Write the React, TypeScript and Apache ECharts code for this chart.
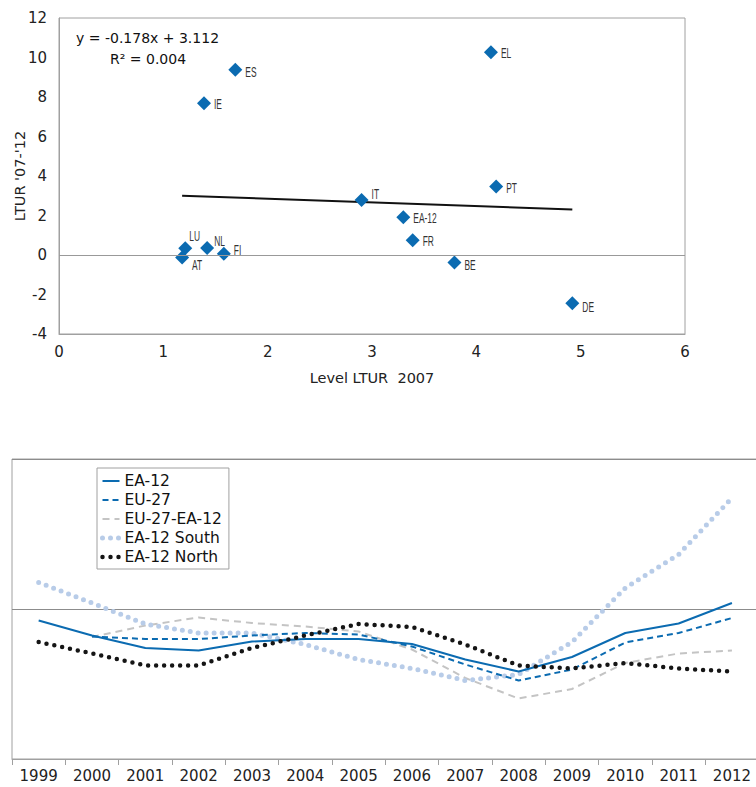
import React, { useEffect, useRef } from 'react';
import * as echarts from 'echarts';

// ---- Scatter: level of long-term unemployment 2007 vs change 2007-2012 ----
const countries = ['EL', 'ES', 'IE', 'IT', 'PT', 'EA-12', 'FR', 'BE', 'DE', 'LU', 'NL', 'FI', 'AT'];
const ltur2007 = [4.14, 1.69, 1.39, 2.9, 4.19, 3.3, 3.39, 3.79, 4.92, 1.21, 1.42, 1.58, 1.18];
const lturChange = [10.27, 9.38, 7.68, 2.78, 3.47, 1.91, 0.75, -0.38, -2.44, 0.34, 0.36, 0.06, -0.13];
const trendX = [1.18, 4.92];
const trendY = [3.0, 2.31];
const equationText = 'y = -0.178x + 3.112';
const r2Text = 'R\u00B2 = 0.004';
const scatterXName = 'Level LTUR  2007';
const scatterYName = "LTUR '07-'12";

// ---- Lines: 1999-2012 ----
const years = ['1999', '2000', '2001', '2002', '2003', '2004', '2005', '2006', '2007', '2008', '2009', '2010', '2011', '2012'];
const ea12 = [-0.23, -0.53, -0.78, -0.83, -0.65, -0.6, -0.6, -0.7, -1.01, -1.25, -0.96, -0.48, -0.29, 0.12];
const eu27 = [null, -0.55, -0.6, -0.6, -0.53, -0.48, -0.51, -0.75, -1.11, -1.43, -1.21, -0.67, -0.48, -0.18];
const eu27MinusEa12 = [null, -0.56, -0.33, -0.17, -0.28, -0.35, -0.45, -0.81, -1.38, -1.79, -1.6, -1.08, -0.89, -0.83];
const ea12South = [0.53, 0.12, -0.3, -0.48, -0.48, -0.71, -1.01, -1.19, -1.43, -1.31, -0.66, 0.42, 1.09, 2.22];
const ea12North = [-0.66, -0.89, -1.13, -1.13, -0.78, -0.53, -0.3, -0.36, -0.71, -1.13, -1.19, -1.08, -1.19, -1.25];
const legendNames = ['EA-12', 'EU-27', 'EU-27-EA-12', 'EA-12 South', 'EA-12 North'];

// label placement tweaks (style, not data)
const labelShift: Record<string, [number, number]> = {
  ES: [0, 1],
  IT: [0, -7],
  PT: [0, 1],
  BE: [0, 2],
  DE: [0, 3],
  LU: [-6, -13],
  NL: [-3, -8],
  FI: [0, -5],
  AT: [0, 6],
};

const FONT = "'DejaVu Sans', sans-serif";
const LABEL_FONT = "15px 'Liberation Sans', Arial, sans-serif";
const BLUE = '#0b6bb1';
const GRAY = '#a0a0a0';

export default function App() {
  const ref = useRef<HTMLDivElement>(null);
  useEffect(() => {
    if (!ref.current) return;
    const chart = echarts.init(ref.current, undefined, { renderer: 'svg' });
    const option: any = {
      animation: false,
      textStyle: { fontFamily: FONT },
      grid: [
        { left: 59, top: 18, width: 626, height: 316, show: true, borderColor: GRAY, borderWidth: 1, outerBoundsMode: 'none', containLabel: false },
        { left: 12, top: 459, width: 746.6, height: 300, show: true, borderColor: GRAY, borderWidth: 1, outerBoundsMode: 'none', containLabel: false },
      ],
      xAxis: [
        {
          type: 'value', gridIndex: 0, min: 0, max: 6, interval: 1,
          axisLine: { show: true, onZero: false, lineStyle: { color: GRAY } },
          axisTick: { show: false }, splitLine: { show: false },
          axisLabel: { fontSize: 15, color: '#222', margin: 10, fontFamily: FONT },
          name: scatterXName, nameLocation: 'middle', nameGap: 36, nameMoveOverlap: false,
          nameTextStyle: { fontSize: 14.5, color: '#222', fontFamily: FONT },
        },
        {
          type: 'category', gridIndex: 1, data: years,
          axisLine: { show: true, onZero: false, lineStyle: { color: GRAY } },
          axisTick: { show: true, length: 6, lineStyle: { color: GRAY } },
          axisLabel: { fontSize: 15, color: '#222', margin: 9, interval: 0, fontFamily: FONT },
          splitLine: { show: false },
        },
      ],
      yAxis: [
        {
          type: 'value', gridIndex: 0, min: -4, max: 12, interval: 2,
          axisLine: { show: true, onZero: false, lineStyle: { color: GRAY } },
          axisTick: { show: false }, splitLine: { show: false },
          axisLabel: { fontSize: 15, color: '#222', margin: 12, fontFamily: FONT },
          name: scatterYName, nameLocation: 'middle', nameGap: 32, nameRotate: 90, nameMoveOverlap: false,
          nameTextStyle: { fontSize: 14.5, color: '#222', fontFamily: FONT },
        },
        {
          type: 'value', gridIndex: 1, min: -3, max: 3, interval: 3,
          axisLine: { show: false }, axisTick: { show: false }, axisLabel: { show: false },
          splitLine: { show: true, lineStyle: { color: '#8c8c8c', width: 1 } },
        },
      ],
      legend: {
        data: legendNames,
        orient: 'vertical', left: 97, top: 468,
        itemWidth: 17, itemHeight: 15, itemGap: 3,
        padding: [5, 7, 4, 3],
        borderColor: GRAY, borderWidth: 1, backgroundColor: '#fff',
        itemStyle: { opacity: 0 },
        lineStyle: { width: 'inherit', cap: 'inherit' },
        textStyle: { fontSize: 15.5, color: '#111', fontFamily: FONT },
      },
      graphic: [
        { type: 'text', left: 76, top: 31, style: { text: equationText, font: `14px ${FONT}`, fill: '#111' } },
        { type: 'text', left: 110, top: 52, style: { text: r2Text, font: `14px ${FONT}`, fill: '#111' } },
      ],
      series: [
        {
          type: 'line', xAxisIndex: 0, yAxisIndex: 0,
          data: trendX.map((x, i) => [x, trendY[i]]),
          symbol: 'none', lineStyle: { color: '#111', width: 2 }, silent: true,
        },
        {
          type: 'scatter', xAxisIndex: 0, yAxisIndex: 0,
          symbol: 'diamond', symbolSize: 14,
          itemStyle: { color: BLUE, opacity: 1 },
          data: countries.map((c, i) => ({ name: c, value: [ltur2007[i], lturChange[i]] })),
          markLine: {
            silent: true, symbol: ['none', 'none'], label: { show: false },
            lineStyle: { color: '#999', type: 'solid', width: 1 },
            data: [{ yAxis: 0 }],
          },
          z: 3,
        },
        {
          type: 'custom', xAxisIndex: 0, yAxisIndex: 0, silent: true, z: 4,
          itemStyle: { color: '#333' },
          data: countries.map((c, i) => [ltur2007[i], lturChange[i]]),
          renderItem: (params: any, api: any) => {
            const pt = api.coord([api.value(0), api.value(1)]);
            const name = countries[params.dataIndex];
            const s = labelShift[name] || [0, 0];
            return {
              type: 'text',
              x: pt[0] + 10 + s[0],
              y: pt[1] + 1 + s[1],
              scaleX: 0.56,
              style: { text: name, font: LABEL_FONT, fill: '#333333', align: 'left', verticalAlign: 'middle' },
            };
          },
        },
        {
          name: 'EU-27-EA-12', type: 'line', xAxisIndex: 1, yAxisIndex: 1, data: eu27MinusEa12,
          symbol: 'none', color: '#c4c4c4',
          lineStyle: { color: '#c4c4c4', width: 2, type: [7, 5] },
        },
        {
          name: 'EA-12 South', type: 'line', xAxisIndex: 1, yAxisIndex: 1, data: ea12South,
          symbol: 'none', color: '#b8cce8',
          lineStyle: { color: '#b8cce8', width: 5, type: [0, 8], cap: 'round' },
        },
        {
          name: 'EU-27', type: 'line', xAxisIndex: 1, yAxisIndex: 1, data: eu27,
          symbol: 'none', color: BLUE,
          lineStyle: { color: BLUE, width: 2, type: [6, 4] },
        },
        {
          name: 'EA-12', type: 'line', xAxisIndex: 1, yAxisIndex: 1, data: ea12,
          symbol: 'none', color: BLUE,
          lineStyle: { color: BLUE, width: 2 },
        },
        {
          name: 'EA-12 North', type: 'line', xAxisIndex: 1, yAxisIndex: 1, data: ea12North,
          symbol: 'none', color: '#151515',
          lineStyle: { color: '#151515', width: 4.5, type: [0, 8], cap: 'round' },
        },
      ],
    };
    chart.setOption(option);
    return () => chart.dispose();
  }, []);
  return (
    <div
      ref={ref}
      style={{ position: 'fixed', left: 0, top: 0, width: 756, height: 787, background: '#fff' }}
    />
  );
}
